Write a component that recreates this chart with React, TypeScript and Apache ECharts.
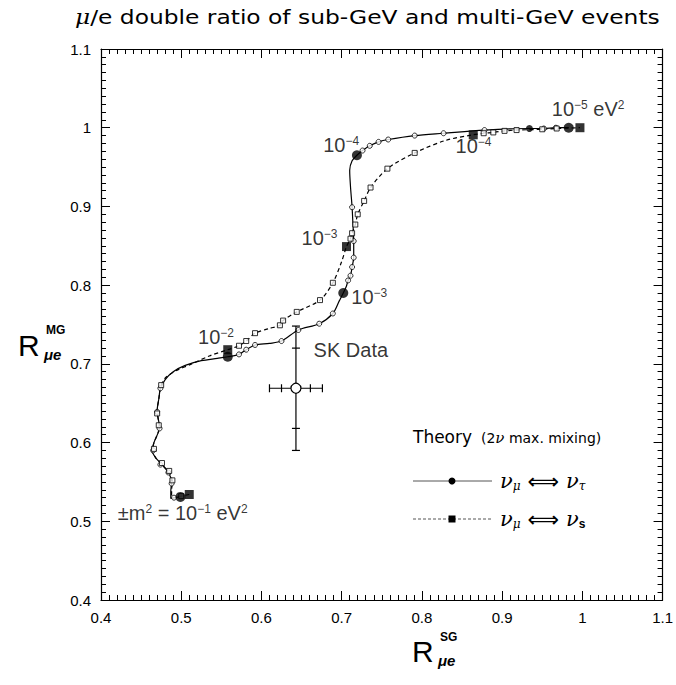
import React, { useEffect, useRef } from "react";
import * as echarts from "echarts";

// nu_mu <-> nu_tau theory curve (smooth path)
const tauPathX = [0.499, 0.491, 0.487, 0.487, 0.488, 0.484, 0.476, 0.468, 0.464, 0.466, 0.471, 0.473, 0.471, 0.470, 0.472, 0.474, 0.480, 0.490, 0.505, 0.525, 0.545, 0.558, 0.572, 0.581, 0.592, 0.610, 0.625, 0.646, 0.672, 0.689, 0.697, 0.702, 0.706, 0.708, 0.711, 0.713, 0.715, 0.715, 0.714, 0.713, 0.711, 0.710, 0.713, 0.719, 0.726, 0.735, 0.746, 0.758, 0.791, 0.827, 0.878, 0.934, 0.952, 0.967, 0.983];
const tauPathY = [0.531, 0.530, 0.529, 0.538, 0.550, 0.562, 0.572, 0.581, 0.589, 0.600, 0.612, 0.620, 0.632, 0.641, 0.655, 0.668, 0.680, 0.690, 0.698, 0.704, 0.707, 0.709, 0.712, 0.718, 0.724, 0.726, 0.729, 0.743, 0.751, 0.764, 0.780, 0.790, 0.799, 0.806, 0.812, 0.823, 0.835, 0.856, 0.878, 0.899, 0.925, 0.946, 0.958, 0.965, 0.971, 0.977, 0.982, 0.985, 0.990, 0.993, 0.997, 0.999, 0.999, 1.000, 1.000];
// small open-circle markers on the tau curve
const tauMarkX = [0.491, 0.488, 0.484, 0.474, 0.465, 0.473, 0.470, 0.474, 0.572, 0.581, 0.592, 0.625, 0.646, 0.672, 0.689, 0.708, 0.711, 0.713, 0.715, 0.715, 0.713, 0.726, 0.735, 0.746, 0.758, 0.791, 0.827, 0.878, 0.952, 0.967];
const tauMarkY = [0.530, 0.548, 0.562, 0.572, 0.590, 0.618, 0.639, 0.669, 0.712, 0.718, 0.724, 0.729, 0.743, 0.751, 0.764, 0.806, 0.812, 0.823, 0.835, 0.856, 0.899, 0.971, 0.977, 0.982, 0.985, 0.990, 0.993, 0.997, 0.999, 1.000];
// labelled (decade) points on the tau curve: 1e-1 .. 1e-5 eV^2
const tauBigX = [0.499, 0.558, 0.702, 0.719, 0.983];
const tauBigY = [0.531, 0.709, 0.790, 0.965, 1.000];
const tauSmallFilledX = [0.934];
const tauSmallFilledY = [0.999];

// nu_mu <-> nu_sterile theory curve
const sterPathX = [0.510, 0.500, 0.488, 0.488, 0.489, 0.485, 0.476, 0.468, 0.464, 0.466, 0.471, 0.473, 0.471, 0.470, 0.472, 0.475, 0.481, 0.495, 0.511, 0.535, 0.558, 0.572, 0.581, 0.592, 0.610, 0.623, 0.627, 0.644, 0.673, 0.689, 0.700, 0.706, 0.711, 0.713, 0.717, 0.720, 0.728, 0.736, 0.757, 0.791, 0.830, 0.864, 0.877, 0.889, 0.903, 0.918, 0.950, 0.968, 0.997];
const sterPathY = [0.534, 0.532, 0.529, 0.540, 0.550, 0.562, 0.572, 0.581, 0.589, 0.600, 0.612, 0.620, 0.632, 0.641, 0.655, 0.673, 0.683, 0.692, 0.699, 0.710, 0.718, 0.723, 0.729, 0.739, 0.745, 0.749, 0.755, 0.766, 0.781, 0.803, 0.830, 0.849, 0.859, 0.866, 0.877, 0.890, 0.907, 0.924, 0.948, 0.968, 0.984, 0.991, 0.993, 0.994, 0.996, 0.997, 0.998, 0.999, 1.000];
const sterMarkX = [0.500, 0.489, 0.485, 0.476, 0.466, 0.472, 0.470, 0.475, 0.572, 0.581, 0.592, 0.623, 0.627, 0.644, 0.673, 0.689, 0.711, 0.713, 0.717, 0.720, 0.728, 0.736, 0.757, 0.791, 0.877, 0.889, 0.903, 0.918, 0.950, 0.968];
const sterMarkY = [0.532, 0.552, 0.564, 0.574, 0.592, 0.622, 0.637, 0.673, 0.723, 0.729, 0.739, 0.749, 0.755, 0.766, 0.781, 0.803, 0.859, 0.866, 0.877, 0.890, 0.907, 0.924, 0.948, 0.968, 0.993, 0.994, 0.996, 0.997, 0.998, 0.999];
const sterBigX = [0.510, 0.558, 0.706, 0.864, 0.997];
const sterBigY = [0.534, 0.718, 0.849, 0.991, 1.000];

// Super-Kamiokande data point
const skX = 0.643;
const skY = 0.669;
const skXErrInner = 0.018;
const skXErrOuter = 0.033;
const skYErrInner = 0.051;
const skYErrOuter = 0.079;

// annotations (data-space anchor = left / middle of text)
const annoX = [0.962, 0.842, 0.677, 0.650, 0.712, 0.521, 0.421, 0.665];
const annoY = [1.024, 0.977, 0.978, 0.860, 0.785, 0.734, 0.510, 0.717];
const annoText = [
  "{b|10}{s|\u22125}{b| eV}{s|2}",
  "{b|10}{s|\u22124}",
  "{b|10}{s|\u22124}",
  "{b|10}{s|\u22123}",
  "{b|10}{s|\u22123}",
  "{b|10}{s|\u22122}",
  "{b|\u00b1m}{s|2}{b| = 10}{s|\u22121}{b| eV}{s|2}",
  "{b|SK Data}",
];

// axis ticks
const axisMin = 0.4;
const axisMax = 1.1;
const axisStep = 0.1;

const titleGreek = "\u03bc";
const titleRest = "/e double ratio of sub-GeV and multi-GeV events";

const zip = (xs: number[], ys: number[]) => xs.map((x, i) => [x, ys[i]]);

const SANS = "Liberation Sans, Arial, sans-serif";
const WIDE = "DejaVu Sans, sans-serif";
const SERIF = "DejaVu Serif, serif";

function measure(text: string, font: string): number {
  const c = document.createElement("canvas").getContext("2d");
  if (!c) return text.length * 10;
  c.font = font;
  return c.measureText(text).width;
}

export default function App() {
  const ref = useRef<HTMLDivElement>(null);
  useEffect(() => {
    document.body.style.margin = "0";
    if (!ref.current) return;
    const chart = echarts.init(ref.current, undefined, { renderer: "svg" });

    const titleFont = 20;
    const titleW =
      measure(titleGreek, `italic ${titleFont}px DejaVu Serif`) +
      measure(titleRest, `${titleFont}px DejaVu Sans`);
    const titleScale = 585 / Math.max(titleW, 1);

    const axisCommon = {
      type: "value" as const,
      min: axisMin,
      max: axisMax,
      interval: axisStep,
      splitLine: { show: false },
      axisLine: { show: true, lineStyle: { color: "#000", width: 1.2 } },
      axisTick: { show: true, inside: true, length: 9, lineStyle: { color: "#000", width: 1 } },
      minorTick: { show: true, splitNumber: 10, length: 5, lineStyle: { color: "#000", width: 1 } },
      minorSplitLine: { show: false },
    };
    const label = { show: true, color: "#000", fontSize: 15, fontFamily: SANS, margin: 10 };

    const richLabel = {
      b: { fontSize: 20, lineHeight: 20, padding: [3, 0, 0, 0], verticalAlign: "bottom", fontFamily: SANS, color: "#000" },
      s: { fontSize: 12, lineHeight: 12, verticalAlign: "top", fontFamily: SANS, color: "#000" },
    };

    const nuRich = (subStyle: any) => ({
      n: { fontSize: 21, fontStyle: "italic", fontFamily: SERIF, fill: "#000", lineHeight: 22, verticalAlign: "top" },
      u: { fontSize: 12, fontStyle: "italic", fontFamily: SERIF, fill: "#000", lineHeight: 12, verticalAlign: "bottom" },
      s: subStyle,
      r: { fontSize: 22, fontFamily: WIDE, fill: "#000", lineHeight: 22, verticalAlign: "top" },
    });

    const option: any = {
      animation: false,
      backgroundColor: "#fff",
      grid: { left: 101, right: 10, top: 49, bottom: 85 },
      xAxis: [
        { ...axisCommon, position: "bottom", axisLabel: label },
        { ...axisCommon, position: "top", axisLabel: { show: false } },
      ],
      yAxis: [
        { ...axisCommon, position: "left", axisLabel: label },
        { ...axisCommon, position: "right", axisLabel: { show: false } },
      ],
      series: [
        {
          type: "line",
          name: "tau",
          data: zip(tauPathX, tauPathY),
          smooth: 0.3,
          showSymbol: false,
          lineStyle: { color: "#000", width: 1.2 },
          z: 2,
        },
        {
          type: "line",
          name: "sterile",
          data: zip(sterPathX, sterPathY),
          smooth: 0.3,
          showSymbol: false,
          lineStyle: { color: "#000", width: 1.2, type: [4, 3] },
          z: 2,
        },
        {
          type: "scatter",
          data: zip(tauMarkX, tauMarkY),
          symbol: "circle",
          symbolSize: 5,
          itemStyle: { color: "#fff", borderColor: "#000", borderWidth: 1 },
          z: 3,
        },
        {
          type: "scatter",
          data: zip(sterMarkX, sterMarkY),
          symbol: "rect",
          symbolSize: 5,
          itemStyle: { color: "#fff", borderColor: "#000", borderWidth: 1 },
          z: 3,
        },
        {
          type: "scatter",
          data: zip(tauSmallFilledX, tauSmallFilledY),
          symbol: "circle",
          symbolSize: 7,
          itemStyle: { color: "#000" },
          z: 4,
        },
        {
          type: "scatter",
          data: zip(tauBigX, tauBigY),
          symbol: "circle",
          symbolSize: 10,
          itemStyle: { color: "#000" },
          z: 4,
        },
        {
          type: "scatter",
          data: zip(sterBigX, sterBigY),
          symbol: "rect",
          symbolSize: 9,
          itemStyle: { color: "#000" },
          z: 4,
        },
        {
          type: "custom",
          data: [[skX, skY, skXErrInner, skXErrOuter, skYErrInner, skYErrOuter]],
          z: 5,
          renderItem: (params: any, api: any) => {
            const x = api.value(0), y = api.value(1);
            const xi = api.value(2), xo = api.value(3), yi = api.value(4), yo = api.value(5);
            const c = api.coord([x, y]);
            const top = api.coord([x, y + yo]);
            const bot = api.coord([x, y - yo]);
            const ti = api.coord([x, y + yi]);
            const bi = api.coord([x, y - yi]);
            const lft = api.coord([x - xo, y]);
            const rgt = api.coord([x + xo, y]);
            const li = api.coord([x - xi, y]);
            const ri = api.coord([x + xi, y]);
            const st = { stroke: "#000", lineWidth: 1.2 };
            const h = 4;
            const ln = (x1: number, y1: number, x2: number, y2: number) => ({
              type: "line",
              shape: { x1, y1, x2, y2 },
              style: st,
            });
            return {
              type: "group",
              children: [
                ln(top[0], top[1], bot[0], bot[1]),
                ln(lft[0], lft[1], rgt[0], rgt[1]),
                ln(top[0] - h, top[1], top[0] + h, top[1]),
                ln(bot[0] - h, bot[1], bot[0] + h, bot[1]),
                ln(ti[0] - h, ti[1], ti[0] + h, ti[1]),
                ln(bi[0] - h, bi[1], bi[0] + h, bi[1]),
                ln(lft[0], lft[1] - h, lft[0], lft[1] + h),
                ln(rgt[0], rgt[1] - h, rgt[0], rgt[1] + h),
                ln(li[0], li[1] - h, li[0], li[1] + h),
                ln(ri[0], ri[1] - h, ri[0], ri[1] + h),
                {
                  type: "circle",
                  shape: { cx: c[0], cy: c[1], r: 5 },
                  style: { fill: "#fff", stroke: "#000", lineWidth: 1.2 },
                },
              ],
            };
          },
        },
        {
          type: "scatter",
          data: annoX.map((x, i) => ({ value: [x, annoY[i]], label: { formatter: annoText[i] } })),
          symbolSize: 0,
          silent: true,
          z: 6,
          label: {
            show: true,
            position: [0, 0],
            align: "left",
            verticalAlign: "middle",
            rich: richLabel,
          },
        },
      ],
      graphic: [
        // title
        {
          type: "text",
          x: 75,
          y: 17,
          scaleX: titleScale,
          style: {
            text: `{i|${titleGreek}}{t|${titleRest}}`,
            verticalAlign: "middle",
            align: "left",
            rich: {
              i: { fontSize: titleFont, fontStyle: "italic", fontFamily: SERIF, fill: "#000", lineHeight: 24 },
              t: { fontSize: titleFont, fontFamily: WIDE, fill: "#000", lineHeight: 24 },
            },
          },
        },
        // y axis title R^MG_mue
        { type: "text", left: 18, top: 330, style: { text: "R", font: `30px ${SANS}`, fill: "#000" } },
        { type: "text", left: 46, top: 324, style: { text: "MG", font: `bold 12px ${SANS}`, fill: "#000" } },
        { type: "text", left: 44, top: 347, style: { text: "\u03bce", font: `italic bold 15px ${SANS}`, fill: "#000" } },
        // x axis title R^SG_mue
        { type: "text", left: 412, top: 636, style: { text: "R", font: `30px ${SANS}`, fill: "#000" } },
        { type: "text", left: 440, top: 631, style: { text: "SG", font: `bold 12px ${SANS}`, fill: "#000" } },
        { type: "text", left: 438, top: 653, style: { text: "\u03bce", font: `italic bold 15px ${SANS}`, fill: "#000" } },
        // legend
        {
          type: "text",
          left: 413,
          top: 428,
          style: {
            text: "{a|Theory}{c|  (2}{n|\u03bd}{c| max. mixing)}",
            rich: {
              a: { fontSize: 17, fontFamily: WIDE, fill: "#000", lineHeight: 21, verticalAlign: "bottom" },
              c: { fontSize: 14, fontFamily: WIDE, fill: "#000", lineHeight: 17, verticalAlign: "bottom" },
              n: { fontSize: 15, fontStyle: "italic", fontFamily: SERIF, fill: "#000", lineHeight: 17, verticalAlign: "bottom" },
            },
          },
        },
        { type: "line", shape: { x1: 413, y1: 481, x2: 492, y2: 481 }, style: { stroke: "#555", lineWidth: 1 } },
        { type: "circle", shape: { cx: 452, cy: 481, r: 3.5 }, style: { fill: "#000" } },
        { type: "line", shape: { x1: 413, y1: 519, x2: 492, y2: 519 }, style: { stroke: "#555", lineWidth: 1, lineDash: [3, 2] } },
        { type: "rect", shape: { x: 448.5, y: 515.5, width: 7, height: 7 }, style: { fill: "#000" } },
        {
          type: "text",
          left: 500,
          top: 470,
          style: {
            text: "{n|\u03bd}{u|\u03bc}{r| \u27fa }{n|\u03bd}{u|\u03c4}",
            rich: nuRich(null),
          },
        },
        {
          type: "text",
          left: 500,
          top: 508,
          style: {
            text: "{n|\u03bd}{u|\u03bc}{r| \u27fa }{n|\u03bd}{s|s}",
            rich: nuRich({ fontSize: 12, fontWeight: "bold", fontFamily: SANS, fill: "#000", lineHeight: 12, verticalAlign: "bottom" }),
          },
        },
      ],
    };
    chart.setOption(option);
    return () => chart.dispose();
  }, []);
  return <div ref={ref} style={{ width: 676, height: 685 }} />;
}
